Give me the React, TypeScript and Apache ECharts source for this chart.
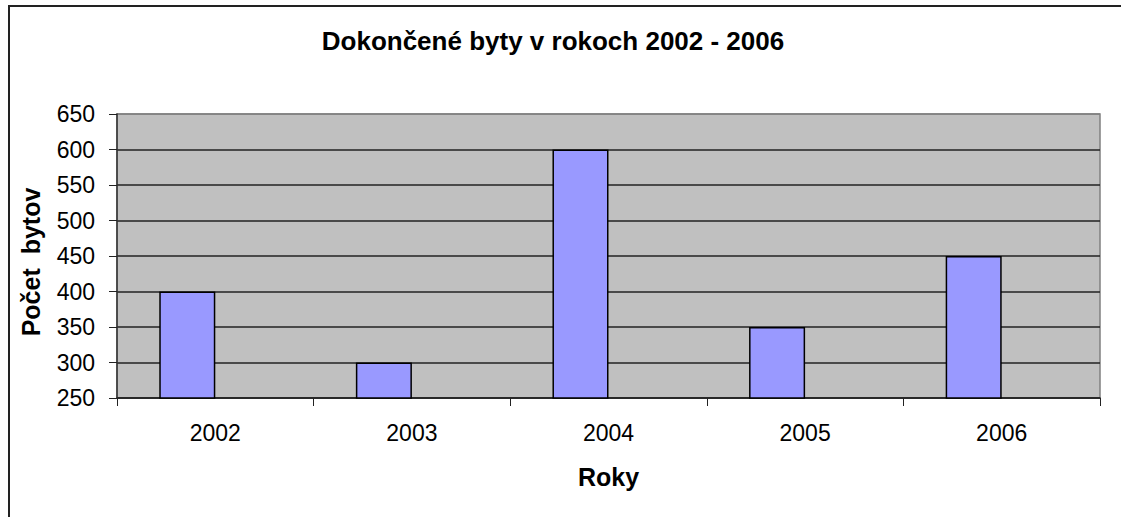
import React, { useEffect, useRef } from "react";
import * as echarts from "echarts";

const titleText = "Dokončené byty v rokoch 2002 - 2006";
const categories = ["2002", "2003", "2004", "2005", "2006"];
const values = [400, 300, 600, 350, 450];
const emptySeries = [null, null, null, null, null];
const yMin = 250;
const yMax = 650;
const yStep = 50;
const xName = "Roky";
const yName = "Počet  bytov";

export default function App() {
  const ref = useRef<HTMLDivElement>(null);
  useEffect(() => {
    if (!ref.current) return;
    const chart = echarts.init(ref.current, null, { renderer: "svg" });
    const font = "'Liberation Sans', Arial, sans-serif";
    const splitColors: string[] = [];
    for (let v = yMin; v <= yMax; v += yStep) {
      splitColors.push(v === yMax ? "#808080" : "#222222");
    }
    chart.setOption({
      animation: false,
      backgroundColor: "#ffffff",
      title: {
        text: titleText,
        left: 548,
        top: 23,
        textAlign: "center",
        textStyle: { fontFamily: font, fontSize: 26, fontWeight: "bold", color: "#000" },
      },
      graphic: [
        {
          type: "rect",
          shape: { x: 9, y: 6, width: 1300, height: 700 },
          style: { fill: "none", stroke: "#222", lineWidth: 2 },
          silent: true,
        },
      ],
      grid: {
        left: 117,
        top: 114,
        right: 21,
        bottom: 119,
        show: true,
        backgroundColor: "#C0C0C0",
        borderColor: "#808080",
        borderWidth: 1.5,
      },
      xAxis: {
        type: "category",
        data: categories,
        name: xName,
        nameLocation: "middle",
        nameGap: 66,
        nameTextStyle: { fontFamily: font, fontSize: 25, fontWeight: "bold", color: "#000" },
        axisLine: { show: true, lineStyle: { color: "#222", width: 1.5 } },
        axisTick: { show: true, alignWithLabel: false, length: 8, lineStyle: { color: "#222", width: 1 } },
        axisLabel: { fontFamily: font, fontSize: 23, color: "#000", margin: 23 },
        splitLine: { show: false },
      },
      yAxis: {
        type: "value",
        min: yMin,
        max: yMax,
        interval: yStep,
        name: yName,
        nameLocation: "middle",
        nameGap: 74,
        nameTextStyle: {
          fontFamily: font,
          fontSize: 25,
          fontWeight: "bold",
          color: "#000",
          padding: [0, 12, 0, 0],
        },
        axisLine: { show: true, lineStyle: { color: "#333", width: 1.5 } },
        axisTick: { show: true, inside: false, length: 8, lineStyle: { color: "#222", width: 1 } },
        axisLabel: { fontFamily: font, fontSize: 23, color: "#000", margin: 22 },
        splitLine: { show: true, lineStyle: { color: splitColors, width: 1.5 } },
      },
      series: [
        {
          type: "bar",
          data: values,
          barGap: "0%",
          barCategoryGap: "43%",
          itemStyle: { color: "#9999FF", borderColor: "#000", borderWidth: 1.5 },
        },
        {
          type: "bar",
          data: emptySeries,
          barGap: "0%",
          barCategoryGap: "43%",
          itemStyle: { color: "#993366", borderColor: "#000", borderWidth: 1.5 },
        },
      ],
    });
    return () => chart.dispose();
  }, []);
  return (
    <div
      ref={ref}
      style={{ position: "fixed", left: 0, top: 0, width: 1121, height: 517, background: "#fff" }}
    />
  );
}
